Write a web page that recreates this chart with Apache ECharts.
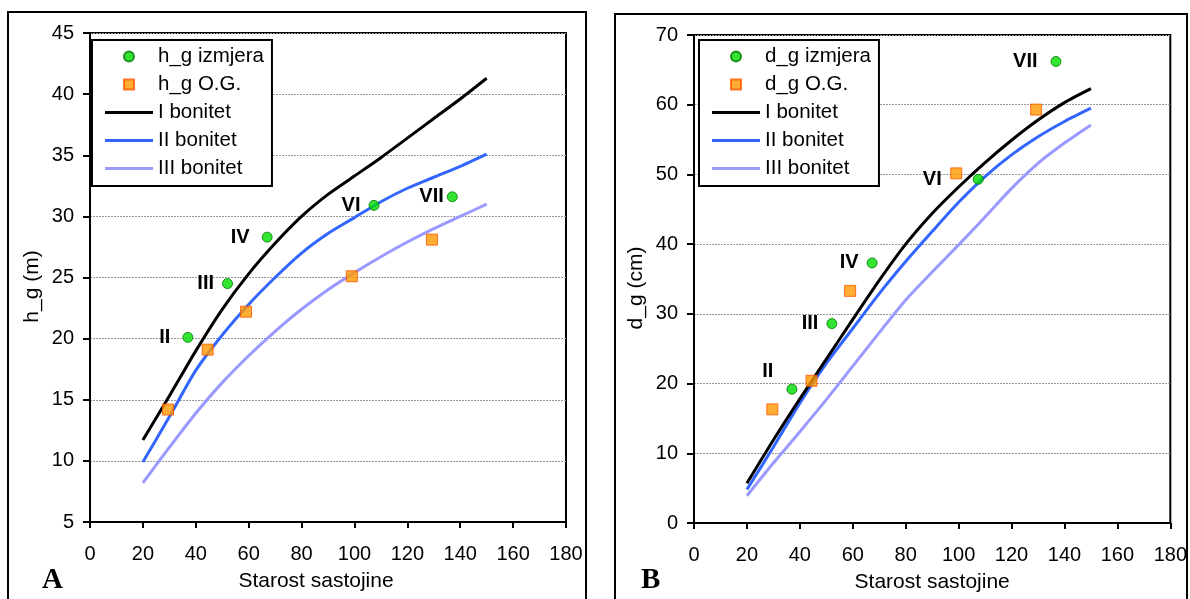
<!DOCTYPE html>
<html>
<head>
<meta charset="utf-8">
<script src="https://cdn.jsdelivr.net/npm/echarts@6/dist/echarts.min.js"></script>
<style>
html,body{margin:0;padding:0;background:#fff;}
#chart{width:1190px;height:599px;}
</style>
</head>
<body>
<div id="chart"></div>
<script>
// ---------- data ----------
var ages = [20, 30, 40, 50, 60, 70, 80, 90, 100, 110, 120, 130, 140, 150];

// Chart A (h_g, m)
var hBonI   = [11.7, 15.3, 19.0, 22.4, 25.3, 27.8, 30.0, 31.8, 33.3, 34.8, 36.4, 38.0, 39.6, 41.3];
var hBonII  = [9.9, 13.6, 17.4, 20.3, 22.8, 25.0, 27.0, 28.6, 29.9, 31.2, 32.3, 33.2, 34.1, 35.1];
var hBonIII = [8.2, 11.1, 13.9, 16.4, 18.6, 20.6, 22.4, 24.0, 25.4, 26.7, 27.9, 29.0, 30.0, 31.0];
var hIzmjeraAge = [37, 52, 67, 107.4, 137];
var hIzmjera    = [20.1, 24.5, 28.3, 30.9, 31.6];
var hOGAge = [29.5, 44.5, 59, 99, 129.3];
var hOG    = [14.2, 19.1, 22.2, 25.1, 28.1];

// Chart B (d_g, cm)
var dBonI   = [5.7, 11.9, 17.8, 23.5, 29.2, 34.8, 40.0, 44.4, 48.2, 51.7, 54.9, 57.8, 60.3, 62.3];
var dBonII  = [4.8, 10.9, 17.2, 22.9, 27.9, 32.9, 37.5, 41.8, 46.0, 49.7, 52.8, 55.4, 57.6, 59.5];
var dBonIII = [3.9, 8.6, 13.1, 17.7, 22.5, 27.3, 32.0, 36.0, 39.9, 43.9, 48.0, 51.6, 54.5, 57.1];
var dIzmjeraAge = [37, 52.1, 67.3, 107.4, 136.8];
var dIzmjera    = [19.2, 28.6, 37.3, 49.3, 66.2];
var dOGAge = [29.6, 44.4, 59, 99.1, 129.3];
var dOG    = [16.3, 20.4, 33.3, 50.15, 59.3];

var pointLabels = ['II', 'III', 'IV', 'VI', 'VII'];

// label placement (style only)
var hLabelDist = [12, 8, 12, 8, 3];
var dLabelDist = [5, 8, 8, 31, 13];
var dLabelOffset = [[-8, -18], [0, 0], [0, 0], [0, 0], [0, 0]];

// ---------- styles ----------
var FONT = 'Liberation Sans, Arial, sans-serif';
var C_I = '#000000', C_II = '#3366ff', C_III = '#9999ff';
var C_GREEN = '#00dd00', C_GREEN_B = '#007700';
var C_OR = '#ff9900', C_OR_B = '#ff5500';
var ICON_LINE = 'path://M0,0h48v3h-48z';
var ICON_SQ = 'path://M0,0h10v10h-10z';

function pairs(xs, ys) { return xs.map(function (x, i) { return [x, ys[i]]; }); }

function labeled(xs, ys, dists, offsets) {
  return xs.map(function (x, i) {
    var item = { value: [x, ys[i]], label: { distance: dists[i] } };
    if (offsets) item.label.offset = offsets[i];
    return item;
  });
}

function lineSeries(name, ys, color, idx) {
  return {
    type: 'line', name: name, xAxisIndex: idx, yAxisIndex: idx,
    data: pairs(ages, ys), symbol: 'none', showSymbol: false,
    smooth: 0.25,
    lineStyle: { color: color, width: 3 }, itemStyle: { color: color },
    z: 2, animation: false
  };
}

function scatterSeries(name, xs, ys, idx, kind, labels) {
  var s = {
    type: 'scatter', name: name, xAxisIndex: idx, yAxisIndex: idx,
    symbol: kind === 'circle' ? 'circle' : 'rect', symbolSize: kind === 'circle' ? 10 : 11,
    itemStyle: kind === 'circle'
      ? { color: C_GREEN, borderColor: C_GREEN_B, borderWidth: 1 }
      : { color: C_OR, borderColor: C_OR_B, borderWidth: 1 },
    data: labels ? labels : pairs(xs, ys),
    z: 5, animation: false
  };
  if (labels) {
    s.label = {
      show: true, position: 'left', color: '#000000', opacity: 1, fontFamily: FONT,
      fontWeight: 'bold', fontSize: 20, textBorderWidth: 0,
      formatter: function (p) { return pointLabels[p.dataIndex]; }
    };
  }
  return s;
}

function xAxis(idx) {
  return {
    type: 'value', gridIndex: idx, min: 0, max: 180, interval: 20,
    name: 'Starost sastojine', nameLocation: 'middle', nameGap: 49,
    nameTextStyle: { fontFamily: FONT, fontSize: 21, color: '#000', padding: idx === 0 ? [0, 24, 0, 0] : 0 },
    axisLine: { show: true, onZero: false, lineStyle: { color: '#000', width: 2 } },
    axisTick: { show: true, inside: false, length: 6, lineStyle: { color: '#000', width: 2 } },
    axisLabel: { fontFamily: FONT, fontSize: 20, color: '#000', margin: 22 },
    splitLine: { show: false }
  };
}

function yAxis(idx, min, max, interval, name) {
  return {
    type: 'value', gridIndex: idx, min: min, max: max, interval: interval,
    name: name, nameLocation: 'middle', nameGap: 47, nameRotate: 90,
    nameTextStyle: { fontFamily: FONT, fontSize: 21, color: '#000', padding: [0, 18, 0, 0] },
    axisLine: { show: true, onZero: false, lineStyle: { color: '#000', width: 2 } },
    axisTick: { show: true, inside: false, length: 7, lineStyle: { color: '#000', width: 2 } },
    axisLabel: { fontFamily: FONT, fontSize: 20, color: '#000', margin: 16 },
    splitLine: { show: true, lineStyle: { color: '#999999', width: 1, type: [2, 1] } }
  };
}

function legend(left, top, names) {
  var icons = ['circle', ICON_SQ, ICON_LINE, ICON_LINE, ICON_LINE];
  return {
    orient: 'vertical', left: left, top: top,
    data: names.map(function (n, i) { return { name: n, icon: icons[i] }; }),
    itemWidth: 48, itemHeight: 10, itemGap: 7,
    symbolKeepAspect: true,
    padding: [6, 8, 7, 13],
    backgroundColor: '#ffffff', borderColor: '#000', borderWidth: 2,
    textStyle: { fontFamily: FONT, fontSize: 20.5, color: '#000', lineHeight: 20 },
    selectedMode: false
  };
}

var chart = echarts.init(document.getElementById('chart'), null, { renderer: 'canvas' });

var option = {
  backgroundColor: '#ffffff',
  animation: false,
  grid: [
    { left: 90, right: 624, top: 33, bottom: 77, show: true, borderColor: '#000', borderWidth: 2, backgroundColor: 'transparent' },
    { left: 694, right: 19, top: 35, bottom: 76, show: true, borderColor: '#000', borderWidth: 2, backgroundColor: 'transparent' }
  ],
  xAxis: [xAxis(0), xAxis(1)],
  yAxis: [yAxis(0, 5, 45, 5, 'h_g (m)'), yAxis(1, 0, 70, 10, 'd_g (cm)')],
  legend: [
    legend(92, 40, ['h_g izmjera', 'h_g O.G.', 'I bonitet', 'II bonitet', 'III bonitet']),
    legend(699, 40, ['d_g izmjera', 'd_g O.G.', 'I bonitet', 'II bonitet', 'III bonitet'])
  ],
  series: [
    lineSeries('III bonitet', hBonIII, C_III, 0),
    lineSeries('II bonitet', hBonII, C_II, 0),
    lineSeries('I bonitet', hBonI, C_I, 0),
    scatterSeries('h_g izmjera', hIzmjeraAge, hIzmjera, 0, 'circle', labeled(hIzmjeraAge, hIzmjera, hLabelDist)),
    scatterSeries('h_g O.G.', hOGAge, hOG, 0, 'rect'),

    lineSeries('III bonitet', dBonIII, C_III, 1),
    lineSeries('II bonitet', dBonII, C_II, 1),
    lineSeries('I bonitet', dBonI, C_I, 1),
    scatterSeries('d_g izmjera', dIzmjeraAge, dIzmjera, 1, 'circle', labeled(dIzmjeraAge, dIzmjera, dLabelDist, dLabelOffset)),
    scatterSeries('d_g O.G.', dOGAge, dOG, 1, 'rect')
  ],
  graphic: [
    { type: 'rect', shape: { x: 8, y: 12, width: 578, height: 600 }, style: { fill: 'none', stroke: '#000', lineWidth: 2 }, silent: true },
    { type: 'rect', shape: { x: 615, y: 14, width: 572, height: 600 }, style: { fill: 'none', stroke: '#000', lineWidth: 2 }, silent: true },
    { type: 'text', left: 42, top: 566, style: { text: 'A', fontFamily: 'Liberation Serif, Times New Roman, serif', fontWeight: 'bold', fontSize: 29, fill: '#000' } },
    { type: 'text', left: 641, top: 566, style: { text: 'B', fontFamily: 'Liberation Serif, Times New Roman, serif', fontWeight: 'bold', fontSize: 29, fill: '#000' } }
  ]
};

chart.setOption(option);
</script>
</body>
</html>
